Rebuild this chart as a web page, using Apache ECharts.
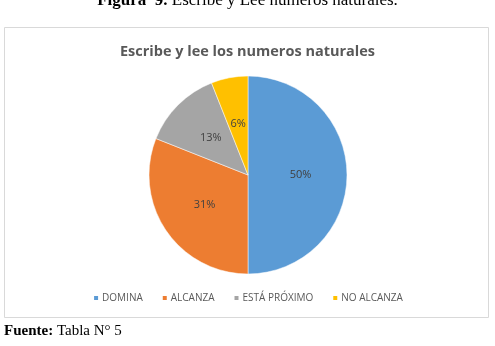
<!DOCTYPE html>
<html>
<head>
<meta charset="utf-8">
<script src="https://cdn.jsdelivr.net/npm/echarts@6/dist/echarts.min.js"></script>
<style>
  html, body { margin: 0; padding: 0; background: #fff; }
  #chart { width: 495px; height: 346px; }
</style>
</head>
<body>
<div id="chart"></div>
<script>
var categories = ['DOMINA', 'ALCANZA', 'ESTÁ PRÓXIMO', 'NO ALCANZA'];
var values = [50, 31, 13, 6];
var colors = ['#5B9BD5', '#ED7D31', '#A5A5A5', '#FFC000'];

var pieData = categories.map(function (name, i) {
    return { name: name, value: values[i], itemStyle: { color: colors[i] } };
});

var myChart = echarts.init(document.getElementById('chart'));
var option = {
    backgroundColor: '#fff',
    animation: false,
    title: {
        text: 'Escribe y lee los numeros naturales',
        left: 'center',
        top: 39,
        textStyle: {
            fontFamily: 'Open Sans',
            fontSize: 14.5,
            fontWeight: 'bold',
            color: '#595959'
        }
    },
    legend: {
        data: categories,
        bottom: 38,
        left: 'center',
        icon: 'rect',
        itemWidth: 6,
        itemHeight: 6,
        itemGap: 18,
        textStyle: {
            fontFamily: 'Open Sans',
            fontSize: 10,
            color: '#595959',
            padding: [0, 0, 0, -2]
        }
    },
    graphic: [
        {
            type: 'rect',
            shape: { x: 4.5, y: 27.5, width: 484, height: 290 },
            style: { fill: 'none', stroke: '#D9D9D9', lineWidth: 1 },
            z: -1
        },
        {
            type: 'text',
            left: 'center',
            top: -8,
            style: {
                text: '{b|Figura  9.} Escribe y Lee números naturales.',
                font: '17px "Liberation Serif"',
                fill: '#000',
                rich: {
                    b: { font: 'bold 17px "Liberation Serif"', fill: '#000' }
                }
            }
        },
        {
            type: 'text',
            left: 4,
            top: 324,
            style: {
                text: '{b|Fuente:} Tabla N° 5',
                font: '15px "Liberation Serif"',
                fill: '#000',
                rich: {
                    b: { font: 'bold 15px "Liberation Serif"', fill: '#000' }
                }
            }
        }
    ],
    series: [{
        type: 'pie',
        center: [248, 175],
        radius: 99,
        startAngle: 90,
        clockwise: true,
        data: pieData,
        itemStyle: { borderColor: '#fff', borderWidth: 0.5 },
        label: {
            position: 'inside',
            formatter: '{c}%',
            fontFamily: 'Open Sans',
            fontSize: 11,
            color: '#404040'
        },
        labelLine: { show: false }
    }]
};
myChart.setOption(option);
</script>
</body>
</html>
